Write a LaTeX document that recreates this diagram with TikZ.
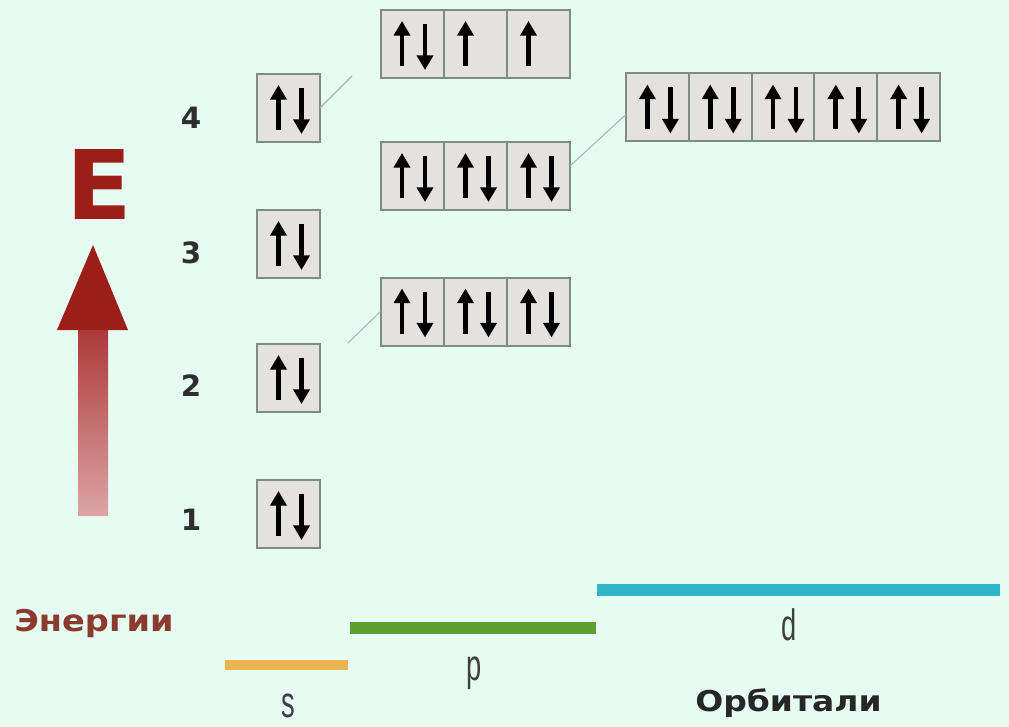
\documentclass[tikz,border=0pt]{standalone}
\usepackage{fontspec}
\setmainfont{DejaVu Sans}
\newfontfamily\libsans{Liberation Sans}
\usetikzlibrary{arrows.meta,calc}
\definecolor{bg}{HTML}{E6FCF2}
\definecolor{boxfill}{HTML}{E4E2DF}
\definecolor{boxline}{HTML}{7E8C84}
\definecolor{guideline}{HTML}{A8B8B0}
\definecolor{ered}{HTML}{9C1E16}
\definecolor{shafttop}{HTML}{AC3838}
\definecolor{shaftbot}{HTML}{DCA4A4}
\definecolor{energytxt}{HTML}{8A3A2E}
\definecolor{sbar}{HTML}{E8B552}
\definecolor{pbar}{HTML}{5CA02E}
\definecolor{dbar}{HTML}{2EB6C8}
\definecolor{lbltxt}{HTML}{404040}
\tikzset{
  cell/.style={draw=boxline, fill=boxfill, line width=1.5pt, minimum width=47.25pt, minimum height=51pt, inner sep=0pt, outer sep=0pt},
  spin/.style={line width=3.6pt, -{Triangle[width=12pt,length=11pt]}},
  ud/.pic={\draw[spin] (-10,22) -- (-10,-23); \draw[spin] (13,-20) -- (13,26);},
  uonly/.pic={\draw[spin] (-10,22) -- (-10,-23);},
  guide/.style={draw=guideline, line width=0.8pt},
  num/.style={font=\bfseries\fontsize{22}{22}\selectfont, text=black!82},
  orb/.style={font=\libsans\fontsize{33}{33}\selectfont, text=lbltxt, xscale=0.62, anchor=base, inner sep=0pt},
}
\begin{document}
\begin{tikzpicture}[x=0.75pt,y=-0.75pt]
\fill[bg] (0,0) rectangle (1009,727);
\useasboundingbox (0,0) rectangle (1009,727);

% s boxes
\node[cell] (s4) at (288.5,108) {};
\node[cell] (s3) at (288.5,244) {};
\node[cell] (s2) at (288.5,378) {};
\node[cell] (s1) at (288.5,514) {};
\foreach \n in {s4,s3,s2,s1} \pic at (\n) {ud};

% 4p
\node[cell] (p4a) at (412,44) {};
\node[cell] (p4b) at (475.5,44) {};
\node[cell] (p4c) at (538.5,44) {};
\pic at (p4a) {ud};
\pic at (p4b) {uonly};
\pic at (p4c) {uonly};

% 3p
\node[cell] (p3a) at (412,176) {};
\node[cell] (p3b) at (475.5,176) {};
\node[cell] (p3c) at (538.5,176) {};
\foreach \n in {p3a,p3b,p3c} \pic at (\n) {ud};

% 2p
\node[cell] (p2a) at (412,311.5) {};
\node[cell] (p2b) at (475.5,311.5) {};
\node[cell] (p2c) at (538.5,311.5) {};
\foreach \n in {p2a,p2b,p2c} \pic at (\n) {ud};

% 3d
\node[cell] (d3a) at (657.4,107.5) {};
\node[cell] (d3b) at (720.2,107.5) {};
\node[cell] (d3c) at (783,107.5) {};
\node[cell] (d3d) at (845.8,107.5) {};
\node[cell] (d3e) at (908.6,107.5) {};
\foreach \n in {d3a,d3b,d3c,d3d,d3e} \pic at (\n) {ud};

% guide lines
\coordinate (g4) at (352,76);
\coordinate (g2) at (348,343);
\draw[guide] (s4.east) -- (g4);
\draw[guide] (g2) -- (p2a.west);
\draw[guide] ($(p3c.east)+(0,-10)$) -- ($(d3a.west)+(0,7)$);

% level numbers
\node[num] (n4) at (191,118) {4};
\node[num] (n3) at (191,253) {3};
\node[num] (n2) at (191,386) {2};
\node[num] (n1) at (191,520) {1};

% E and arrow
\node[font=\bfseries\fontsize{72}{72}\selectfont, text=ered, xscale=1.0, inner sep=0pt] (E) at (99,185) {E};
\shade[top color=shafttop, bottom color=shaftbot] (78,328) rectangle (108,515);
\fill[ered] (57,330) -- (93,245) -- (128,330) -- cycle;

% orbital bars
\draw[sbar, line width=7.5pt] (225,665) -- (348,665);
\draw[pbar, line width=9pt] (350,628) -- (596,628);
\draw[dbar, line width=9pt] (597,590) -- (1000,590);

% labels
\node[orb] (ls) at (288,717) {s};
\node[orb] (lp) at (474,680) {p};
\node[orb] (ld) at (789,640) {d};
\node[font=\bfseries\fontsize{22.5}{22.5}\selectfont, text=energytxt, xscale=1.12, anchor=base west, inner sep=0pt] (energy) at (14,631) {Энергии};
\node[font=\bfseries\fontsize{21.5}{21.5}\selectfont, text=black!85, xscale=1.15, anchor=base west, inner sep=0pt] (orbitals) at (695,711) {Орбитали};
\end{tikzpicture}
\end{document}
